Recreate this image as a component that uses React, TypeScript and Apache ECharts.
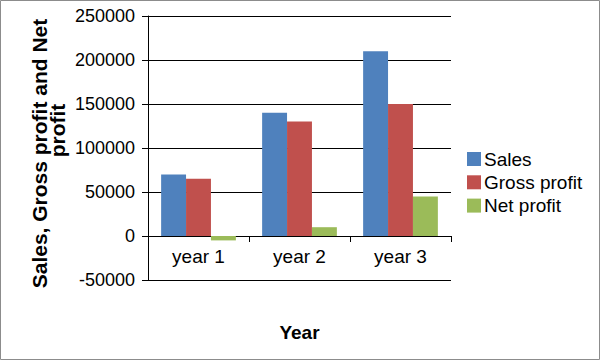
import React, { useEffect, useRef } from "react";
import * as echarts from "echarts";

const categories = ["year 1", "year 2", "year 3"];
const sales = [70000, 140000, 210000];
const grossProfit = [65000, 130000, 150000];
const netProfit = [-5000, 10000, 45000];
const seriesNames = ["Sales", "Gross profit", "Net profit"];
const colors = ["#4F81BD", "#C0504D", "#9BBB59"];
const yTitleLines = ["Sales, Gross profit and Net", "profit"];
const xTitle = "Year";

export default function App() {
  const ref = useRef<HTMLDivElement>(null);
  useEffect(() => {
    if (!ref.current) return;
    const chart = echarts.init(ref.current, null, { renderer: "svg" });
    const font = "Liberation Sans, Arial, sans-serif";
    chart.setOption({
      animation: false,
      textStyle: { fontFamily: font },
      graphic: [
        {
          type: "rect",
          shape: { x: 0.5, y: 0.5, width: 599, height: 359 },
          style: { fill: "none", stroke: "#8c8c8c", lineWidth: 1 },
          silent: true,
        },
        {
          type: "text",
          x: 39,
          y: 153.5,
          rotation: Math.PI / 2,
          style: {
            text: yTitleLines[0],
            fontSize: 21,
            fontWeight: "bold",
            fontFamily: font,
            fill: "#000",
            align: "center",
            verticalAlign: "middle",
          },
        },
        {
          type: "text",
          x: 57,
          y: 130.5,
          rotation: Math.PI / 2,
          style: {
            text: yTitleLines[1],
            fontSize: 21,
            fontWeight: "bold",
            fontFamily: font,
            fill: "#000",
            align: "center",
            verticalAlign: "middle",
          },
        },
      ],
      grid: { left: 148, right: 149, top: 16, bottom: 80, containLabel: false, outerBoundsMode: "none" },
      legend: {
        orient: "vertical",
        left: 467,
        top: 149.5,
        padding: 0,
        itemWidth: 14,
        itemHeight: 14,
        itemGap: 4.3,
        icon: "rect",
        data: seriesNames,
        textStyle: { fontSize: 19, lineHeight: 19, color: "#000", fontFamily: font, padding: [0, 0, 0, -2] },
      },
      xAxis: {
        type: "category",
        data: categories,
        offset: -44,
        name: xTitle,
        nameLocation: "middle",
        nameGap: 87,
        nameTextStyle: { fontSize: 19, fontWeight: "bold", color: "#000" },
        axisLine: { onZero: false, lineStyle: { color: "#000", width: 1 } },
        axisTick: { show: true, length: 6, lineStyle: { color: "#000" } },
        axisLabel: { fontSize: 19, color: "#000", margin: 11 },
      },
      yAxis: {
        type: "value",
        min: -50000,
        max: 250000,
        interval: 50000,
        axisLine: { show: true, lineStyle: { color: "#000", width: 1 } },
        axisTick: { show: true, length: 6, lineStyle: { color: "#000" } },
        axisLabel: { fontSize: 18, color: "#000", margin: 13, formatter: (v: number) => String(v) },
        splitLine: { show: true, lineStyle: { color: "#000", width: 1 } },
      },
      series: [
        { name: seriesNames[0], type: "bar", data: sales, itemStyle: { color: colors[0] }, barGap: "0%", barCategoryGap: "26%" },
        { name: seriesNames[1], type: "bar", data: grossProfit, itemStyle: { color: colors[1] }, barGap: "0%", barCategoryGap: "26%" },
        { name: seriesNames[2], type: "bar", data: netProfit, itemStyle: { color: colors[2] }, barGap: "0%", barCategoryGap: "26%" },
      ],
    });
    return () => chart.dispose();
  }, []);
  return <div ref={ref} style={{ width: 600, height: 360, position: "absolute", left: 0, top: 0 }} />;
}
